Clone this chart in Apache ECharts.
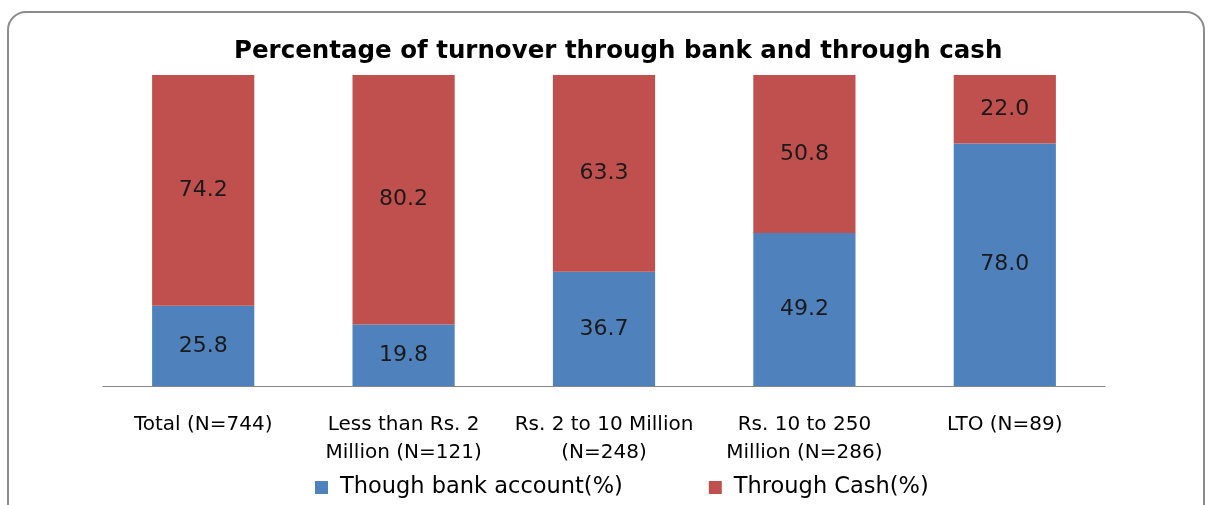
<!DOCTYPE html>
<html>
<head>
<meta charset="utf-8">
<script src="https://cdn.jsdelivr.net/npm/echarts@6/dist/echarts.min.js"></script>
<style>
  html, body { margin: 0; padding: 0; background: #fff; }
  #chart { width: 1208px; height: 505px; }
</style>
</head>
<body>
<div id="chart"></div>
<script>
var categories = ['Total (N=744)', 'Less than Rs. 2\nMillion (N=121)', 'Rs. 2 to 10 Million\n(N=248)', 'Rs. 10 to 250\nMillion (N=286)', 'LTO (N=89)'];
var bankValues = [25.8, 19.8, 36.7, 49.2, 78.0];
var cashValues = [74.2, 80.2, 63.3, 50.8, 22.0];

var fontFam = '"DejaVu Sans", sans-serif';
var myChart = echarts.init(document.getElementById('chart'));

myChart.setOption({
  animation: false,
  title: {
    text: 'Percentage of turnover through bank and through cash',
    left: 229,
    top: 34,
    textStyle: { fontFamily: fontFam, fontSize: 24.5, fontWeight: 'bold', color: '#000' }
  },
  graphic: [{
    type: 'rect',
    shape: { x: 8, y: 12, width: 1196, height: 520, r: 18 },
    style: { fill: 'none', stroke: '#8c8c8c', lineWidth: 2 },
    z: -1
  }],
  legend: {
    bottom: 1,
    left: 310,
    itemWidth: 13,
    itemHeight: 13,
    itemGap: 86,
    icon: 'rect',
    textStyle: { fontFamily: fontFam, fontSize: 22.5, color: '#000', padding: [0, 0, 0, 7] },
    data: ['Though bank account(%)', 'Through Cash(%)']
  },
  grid: { left: 103, right: 103, top: 75, bottom: 119, containLabel: false },
  xAxis: {
    type: 'category',
    data: categories,
    axisLine: { lineStyle: { color: '#868686', width: 1 } },
    axisTick: { show: false },
    axisLabel: {
      interval: 0,
      margin: 25,
      lineHeight: 28,
      fontFamily: fontFam,
      fontSize: 20,
      color: '#000'
    }
  },
  yAxis: {
    type: 'value',
    min: 0,
    max: 100,
    show: false,
    splitLine: { show: false }
  },
  series: [
    {
      name: 'Though bank account(%)',
      type: 'bar',
      stack: 'total',
      barWidth: '51%',
      itemStyle: { color: '#4F81BD' },
      label: {
        show: true,
        position: 'inside',
        fontFamily: fontFam,
        fontSize: 22,
        color: '#1a1a1a',
        formatter: function (p) { return p.value.toFixed(1); }
      },
      data: bankValues
    },
    {
      name: 'Through Cash(%)',
      type: 'bar',
      stack: 'total',
      barWidth: '51%',
      itemStyle: { color: '#C0504D' },
      label: {
        show: true,
        position: 'inside',
        fontFamily: fontFam,
        fontSize: 22,
        color: '#1a1a1a',
        formatter: function (p) { return p.value.toFixed(1); }
      },
      data: cashValues
    }
  ]
});
</script>
</body>
</html>
